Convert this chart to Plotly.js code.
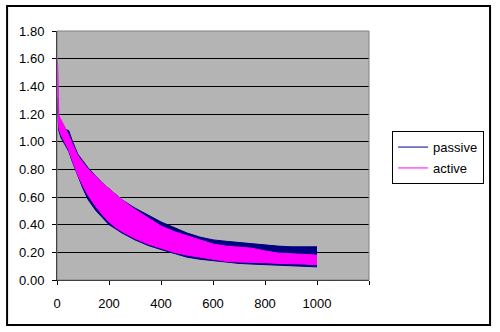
<!DOCTYPE html>
<html>
<head>
<meta charset="utf-8">
<script src="https://cdn.plot.ly/plotly-3.0.1.min.js"></script>
<style>html,body{margin:0;padding:0;background:#fff;}#chart{width:500px;height:332px;}</style>
</head>
<body>
<div id="chart"></div>
<script>
// Envelope of the noisy "passive" series (upper / lower bounds)
const passiveX     = [0, 3, 7, 15, 30, 45, 60, 80, 100, 120, 150, 175, 200, 225, 250, 300, 350, 400, 450, 500, 550, 600, 650, 700, 750, 800, 850, 900, 950, 1000];
const passiveUpper = [1.32, 1.30, 1.15, 1.12, 1.09, 1.08, 1.00, 0.91, 0.86, 0.81, 0.75, 0.70, 0.66, 0.62, 0.58, 0.52, 0.47, 0.42, 0.38, 0.34, 0.31, 0.29, 0.28, 0.27, 0.26, 0.25, 0.245, 0.24, 0.24, 0.24];
const passiveLower = [1.25, 1.20, 1.08, 1.03, 0.98, 0.93, 0.85, 0.75, 0.66, 0.58, 0.50, 0.45, 0.40, 0.37, 0.34, 0.29, 0.25, 0.22, 0.19, 0.165, 0.15, 0.14, 0.125, 0.12, 0.115, 0.11, 0.105, 0.10, 0.10, 0.095];

// Envelope of the noisy "active" series
const activeX     = [0, 3, 7, 15, 30, 45, 60, 80, 100, 120, 150, 175, 200, 225, 250, 300, 350, 400, 450, 500, 550, 600, 650, 700, 750, 800, 850, 900, 950, 1000];
const activeUpper = [1.60, 1.53, 1.19, 1.16, 1.10, 1.05, 0.98, 0.90, 0.85, 0.80, 0.75, 0.70, 0.66, 0.62, 0.58, 0.51, 0.45, 0.39, 0.35, 0.32, 0.29, 0.26, 0.245, 0.235, 0.23, 0.21, 0.195, 0.19, 0.185, 0.18];
const activeLower = [1.52, 1.25, 1.10, 1.05, 0.99, 0.94, 0.86, 0.76, 0.68, 0.61, 0.53, 0.47, 0.42, 0.38, 0.35, 0.30, 0.26, 0.23, 0.20, 0.18, 0.165, 0.15, 0.135, 0.13, 0.13, 0.125, 0.12, 0.12, 0.115, 0.11];

const xTickVals = [0, 200, 400, 600, 800, 1000, 1200];
const xTickText = ['0', '200', '400', '600', '800', '1000', ''];

const seriesNames = ['passive', 'active'];
const seriesColors = ['#000080', '#ff00ff'];

const traces = [
  {x: passiveX, y: passiveUpper, type: 'scatter', mode: 'lines', name: seriesNames[0],
   line: {color: seriesColors[0], width: 1}, legendgroup: 'g1'},
  {x: passiveX, y: passiveLower, type: 'scatter', mode: 'lines', showlegend: false,
   fill: 'tonexty', fillcolor: seriesColors[0], line: {color: seriesColors[0], width: 1}, legendgroup: 'g1'},
  {x: activeX, y: activeUpper, type: 'scatter', mode: 'lines', name: seriesNames[1],
   line: {color: seriesColors[1], width: 1}, legendgroup: 'g2'},
  {x: activeX, y: activeLower, type: 'scatter', mode: 'lines', showlegend: false,
   fill: 'tonexty', fillcolor: seriesColors[1], line: {color: seriesColors[1], width: 1}, legendgroup: 'g2'}
];

const fontFam = 'Liberation Sans, Arial, sans-serif';
const layout = {
  width: 500, height: 332,
  margin: {l: 57, r: 131, t: 31, b: 52},
  paper_bgcolor: '#ffffff',
  plot_bgcolor: '#b4b4b4',
  font: {family: fontFam, size: 13, color: '#000'},
  showlegend: true,
  legend: {x: 1.074, y: 0.598, xanchor: 'left', yanchor: 'top',
           bordercolor: '#000', borderwidth: 1, bgcolor: '#fff',
           font: {family: fontFam, size: 13, color: '#000'},
           traceorder: 'grouped', tracegroupgap: 1},
  xaxis: {range: [0, 1200], tickvals: xTickVals, ticktext: xTickText,
          ticks: 'outside', ticklen: 4, tickcolor: '#000', showgrid: false,
          showline: true, linecolor: '#000', linewidth: 1, zeroline: false,
          ticklabelstandoff: 7, fixedrange: true},
  yaxis: {range: [0, 1.8], dtick: 0.2, tick0: 0, tickformat: '.2f',
          ticks: 'outside', ticklen: 4, tickcolor: '#000',
          showgrid: true, gridcolor: '#000', gridwidth: 1,
          showline: true, linecolor: '#000', linewidth: 1, zeroline: false,
          ticklabelstandoff: 5, fixedrange: true},
  shapes: [
    {type: 'rect', xref: 'paper', yref: 'paper', x0: 0, x1: 1, y0: 0, y1: 1,
     line: {color: '#808080', width: 1}, layer: 'above'},
    {type: 'rect', xref: 'paper', yref: 'paper', x0: -0.160, x1: 1.388, y0: -0.181, y1: 1.100,
     line: {color: '#000', width: 2}}
  ]
};

Plotly.newPlot('chart', traces, layout, {displayModeBar: false, staticPlot: true});
</script>
</body>
</html>
